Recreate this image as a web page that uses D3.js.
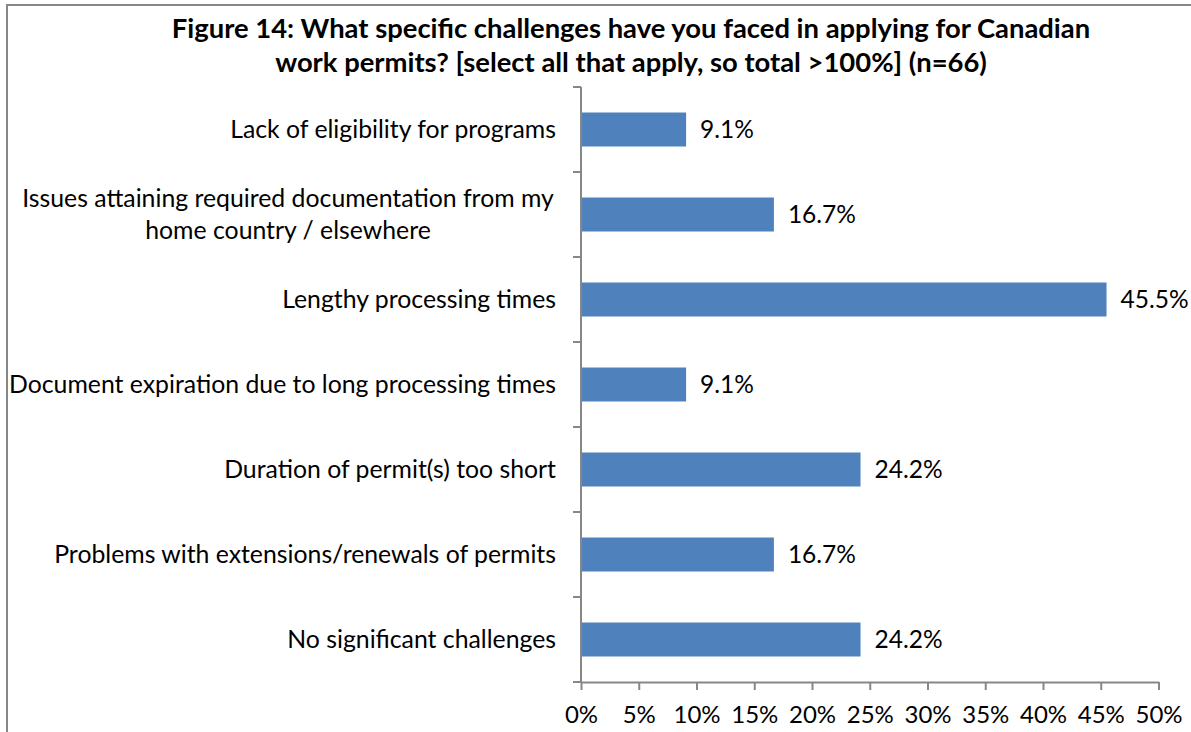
<!DOCTYPE html>
<html><head><meta charset="utf-8">
<script src="https://cdn.jsdelivr.net/npm/d3@7"></script>
<style>
html,body{margin:0;padding:0;background:#fff;}
svg{display:block;font-family:Lato,"Open Sans",sans-serif;}
</style></head>
<body>
<svg id="c" width="1191" height="732"></svg>
<script>
const titleLines = ["Figure 14: What specific challenges have you faced in applying for Canadian",
                    "work permits? [select all that apply, so total >100%] (n=66)"];
const categories = [
  ["Lack of eligibility for programs"],
  ["Issues attaining required documentation from my", "home country / elsewhere"],
  ["Lengthy processing times"],
  ["Document expiration due to long processing times"],
  ["Duration of permit(s) too short"],
  ["Problems with extensions/renewals of permits"],
  ["No significant challenges"]
];
const values = [9.1, 16.7, 45.5, 9.1, 24.2, 16.7, 24.2];
const tickValues = [0,5,10,15,20,25,30,35,40,45,50];

(function(){
const svg = d3.select("#c");
svg.append("rect").attr("x",7).attr("y",5).attr("width",1300).attr("height",900)
  .attr("fill","none").attr("stroke","#878787").attr("stroke-width",2);

const pL = 581, pR = 1158.5, pT = 87, pB = 682;
const FS = 24.8;
const x = d3.scaleLinear().domain([0,50]).range([pL,pR]);
const y = d3.scaleBand().domain(d3.range(categories.length)).range([pT,pB]).paddingInner(0.6).paddingOuter(0.3);
const yb = d3.scaleBand().domain(d3.range(categories.length)).range([pT,pB]);

const t = svg.append("text").attr("text-anchor","middle").attr("font-weight","bold")
  .attr("font-size",27.4).attr("fill","#000");
titleLines.forEach((l,i)=> t.append("tspan").attr("x",631).attr("y",[38,72][i]).text(l));

svg.selectAll("rect.bar").data(values).enter().append("rect").attr("class","bar")
  .attr("x",x(0)).attr("y",(d,i)=>y(i)).attr("width",d=>x(d)-x(0)).attr("height",y.bandwidth())
  .attr("fill","#4F81BD");

svg.selectAll("text.val").data(values).enter().append("text").attr("class","val")
  .attr("x",d=>x(d)+14).attr("y",(d,i)=>yb(i)+yb.bandwidth()/2+8.5)
  .attr("font-size",24.5).attr("fill","#000").text(d=>d.toFixed(1)+"%");

categories.forEach((lines,i)=>{
  const cy = yb(i)+yb.bandwidth()/2;
  const tx = svg.append("text").attr("font-size",FS).attr("fill","#000").attr("text-anchor", lines.length>1?"middle":"end");
  lines.forEach((l,j)=>{
    const off = (j-(lines.length-1)/2)*32;
    tx.append("tspan").attr("x", lines.length>1 ? 288 : 556).attr("y", cy+off+8.5).text(l);
  });
});

const gy = svg.append("g");
gy.append("line").attr("x1",pL).attr("x2",pL).attr("y1",pT).attr("y2",pB).attr("stroke","#878787").attr("stroke-width",2);
gy.selectAll("line.t").data(d3.range(categories.length+1)).enter().append("line")
  .attr("x1",pL-8).attr("x2",pL).attr("y1",i=>i<categories.length?yb(i):pB).attr("y2",i=>i<categories.length?yb(i):pB)
  .attr("stroke","#878787").attr("stroke-width",2);

const xAxis = d3.axisBottom(x).tickValues(tickValues).tickSize(8).tickSizeOuter(0).tickPadding(14)
  .tickFormat(d=>d+"%");
const gx = svg.append("g").attr("transform",`translate(0,${pB})`).call(xAxis);
gx.select(".domain").attr("stroke","#878787").attr("stroke-width",2);
gx.selectAll(".tick line").attr("stroke","#878787").attr("stroke-width",2);
gx.selectAll(".tick text").attr("font-size",24).attr("fill","#000").attr("font-family","Lato,'Open Sans',sans-serif")
  .attr("dy",null).attr("y",41);
})();
</script>
</body></html>
